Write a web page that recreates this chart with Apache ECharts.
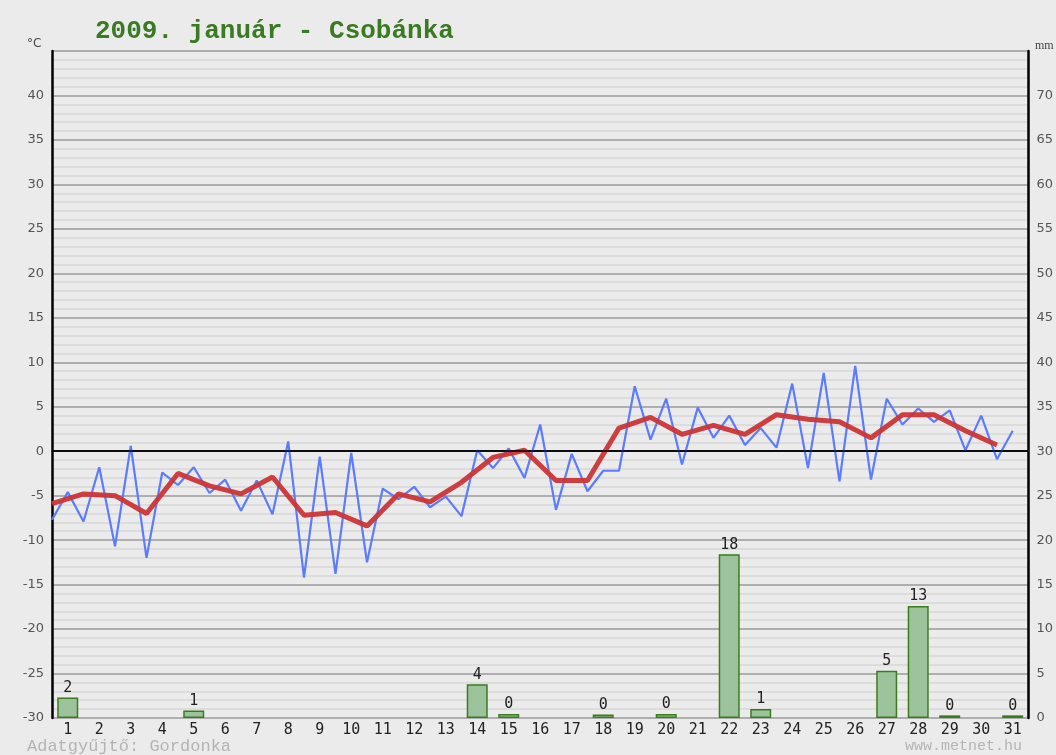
<!DOCTYPE html>
<html>
<head>
<meta charset="utf-8">
<script src="https://cdn.jsdelivr.net/npm/echarts@6/dist/echarts.min.js"></script>
<style>
	html, body { margin: 0; padding: 0; background: #ebebeb; }
	#chart { width: 1056px; height: 755px; }
</style>
</head>
<body>
<div id="chart"></div>
<script>
	// napok
	var days = [];
	for (var d = 1; d <= 31; d++) days.push(String(d));

	// homerseklet, naponta ket leolvasas (°C)
	var tempReadings = [
		-7.7, -4.6, -7.9, -1.8, -10.7, 0.6, -12.0, -2.4, -3.8, -1.8,
		-4.7, -3.2, -6.7, -3.3, -7.1, 1.1, -14.2, -0.6, -13.8, -0.2,
		-12.5, -4.2, -5.4, -4.0, -6.3, -5.1, -7.3, 0.1, -1.9, 0.3,
		-3.0, 3.0, -6.6, -0.3, -4.5, -2.2, -2.2, 7.3, 1.3, 5.9,
		-1.5, 4.9, 1.5, 4.0, 0.7, 2.6, 0.4, 7.6, -1.9, 8.8,
		-3.4, 9.6, -3.2, 5.9, 3.0, 4.8, 3.3, 4.6, 0.1, 4.0,
		-0.9, 2.3
	];

	// napi kozephomerseklet (°C)
	var tempMean = [
		-5.9, -4.8, -5.0, -7.0, -2.5, -3.9, -4.8, -2.9, -7.2, -6.9,
		-8.4, -4.8, -5.7, -3.5, -0.7, 0.1, -3.3, -3.3, 2.6, 3.8,
		1.9, 2.9, 1.9, 4.1, 3.6, 3.3, 1.5, 4.1, 4.1, 2.3,
		0.7
	];

	// csapadek (mm)
	var precip = [
		2.3, null, null, null, 0.85, null, null, null, null, null,
		null, null, null, 3.8, 0.45, null, null, 0.4, null, 0.45,
		null, 18.4, 1.0, null, null, null, 5.3, 12.6, 0.3, null,
		0.3
	];

	var tempTicks = [-30, 45];
	var precipTicks = [0, 75];

	var myChart = echarts.init(document.getElementById('chart'));

	var monoFont = '"DejaVu Sans Mono", monospace';

	myChart.setOption({
		backgroundColor: '#ebebeb',
		animation: false,
		title: [{
			text: '2009. január - Csobánka',
			left: 95, top: 18, padding: 0,
			textStyle: { fontFamily: '"Liberation Mono", monospace', fontSize: 26, fontWeight: 'bold', color: '#3a7a22' }
		}, {
			text: '°C',
			left: 27, top: 38, padding: 0,
			textStyle: { fontFamily: '"DejaVu Sans", sans-serif', fontSize: 12, fontWeight: 'normal', color: '#444' }
		}, {
			text: 'mm',
			left: 1035, top: 40, padding: 0,
			textStyle: { fontFamily: '"Liberation Serif", serif', fontSize: 12, fontWeight: 'normal', color: '#444' }
		}, {
			text: 'Adatgyűjtő: Gordonka',
			left: 27, top: 738, padding: 0,
			textStyle: { fontFamily: '"Liberation Mono", monospace', fontSize: 17, fontWeight: 'normal', color: '#b4b4b4' }
		}, {
			text: 'www.metnet.hu',
			left: 905, top: 739, padding: 0,
			textStyle: { fontFamily: '"Liberation Mono", monospace', fontSize: 15, fontWeight: 'normal', color: '#b4b4b4' }
		}],
		grid: { left: 52, right: 27, top: 51, bottom: 37 },
		xAxis: [{
			type: 'category',
			data: days,
			boundaryGap: true,
			axisLine: { show: true, lineStyle: { color: '#333', width: 2 } },
			axisTick: { show: false },
			axisLabel: { margin: 5, fontFamily: monoFont, fontSize: 15, color: '#222' },
			splitLine: { show: false }
		}, {
			type: 'value',
			min: 0, max: 31,
			show: false
		}],
		yAxis: [{
			type: 'value',
			min: tempTicks[0], max: tempTicks[1], interval: 5,
			position: 'left',
			axisLine: { show: true, lineStyle: { color: '#000', width: 2.5 } },
			axisTick: { show: false },
			axisLabel: {
				margin: 8, fontFamily: '"DejaVu Sans", sans-serif', fontSize: 13, color: '#555',
				formatter: function (v) { return v === tempTicks[1] ? '' : v; }
			},
			splitLine: { show: true, lineStyle: { color: '#9a9a9a', width: 1.5 } },
			minorTick: { show: false, splitNumber: 5 },
			minorSplitLine: { show: true, lineStyle: { color: '#d8d8d8', width: 1.5 } }
		}, {
			type: 'value',
			min: precipTicks[0], max: precipTicks[1], interval: 5,
			position: 'right',
			axisLine: { show: true, lineStyle: { color: '#000', width: 2.5 } },
			axisTick: { show: false },
			axisLabel: {
				margin: 8, fontFamily: '"DejaVu Sans", sans-serif', fontSize: 13, color: '#555',
				formatter: function (v) { return v === precipTicks[1] ? '' : v; }
			},
			splitLine: { show: false }
		}],
		series: [{
			name: 'csapadék',
			type: 'bar',
			xAxisIndex: 0, yAxisIndex: 1,
			data: precip,
			barWidth: 21,
			itemStyle: { color: '#9cc39c', borderColor: '#3a7d1c', borderWidth: 1.5 },
			label: {
				show: true, position: 'top', distance: 2,
				fontFamily: monoFont, fontSize: 15, color: '#222',
				formatter: function (p) { return Math.round(p.value); }
			}
		}, {
			name: 'hőmérséklet',
			type: 'line',
			xAxisIndex: 1, yAxisIndex: 0,
			data: tempReadings.map(function (v, i) { return [i * 0.5, v]; }),
			symbol: 'none',
			lineStyle: { color: '#5b7cff', width: 2.2 },
			markLine: {
				silent: true, symbol: 'none', label: { show: false },
				lineStyle: { color: '#000', width: 1.5, type: 'solid' },
				data: [{ yAxis: 0 }]
			},
			z: 3
		}, {
			name: 'középhőmérséklet',
			type: 'line',
			xAxisIndex: 1, yAxisIndex: 0,
			data: tempMean.map(function (v, i) { return [i, v]; }),
			symbol: 'none',
			lineStyle: { color: '#cc3535', width: 5, opacity: 0.95 },
			z: 4
		}]
	});
</script>
</body>
</html>
